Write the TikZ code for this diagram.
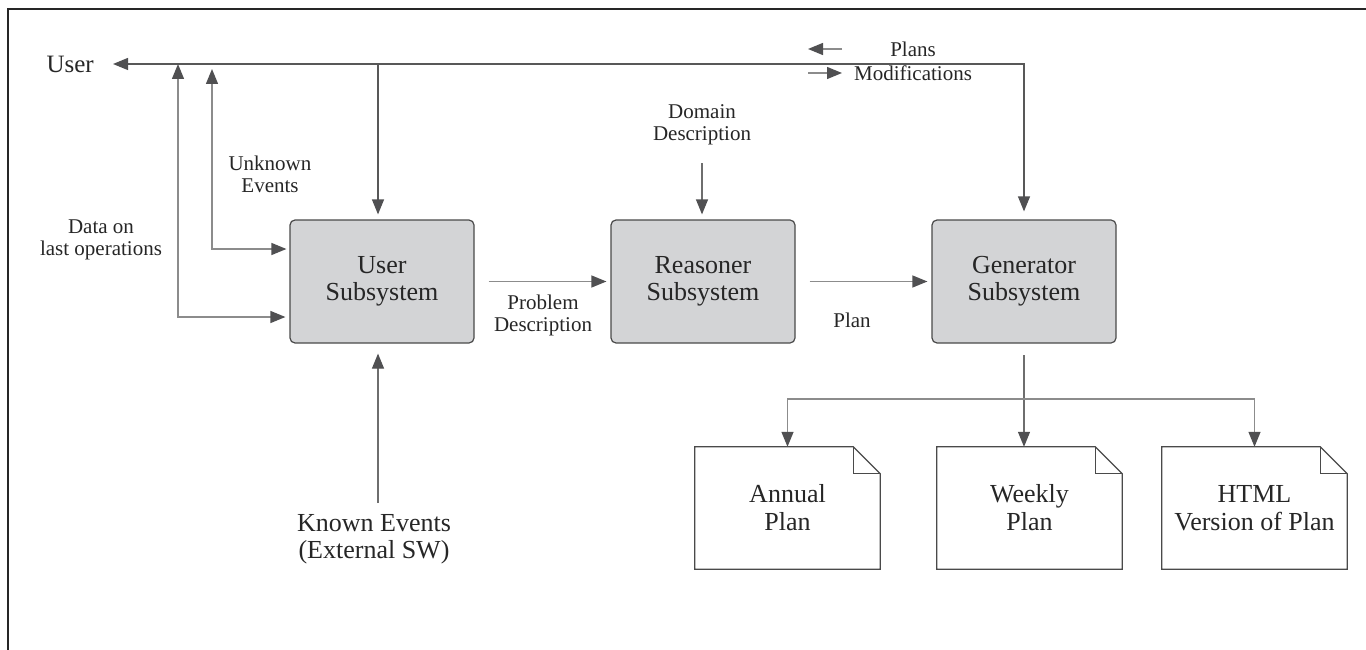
\documentclass[tikz,border=0pt]{standalone}
\usepackage{fontspec}
\setmainfont{Liberation Serif}
\usetikzlibrary{arrows.meta,calc}
\definecolor{linegray}{HTML}{6E6E6E}
\definecolor{lightline}{HTML}{8C8C8C}
\definecolor{darkline}{HTML}{585858}
\definecolor{tipgray}{HTML}{505052}
\definecolor{boxfill}{HTML}{D3D4D6}
\definecolor{boxline}{HTML}{4A4A4A}
\definecolor{textcol}{HTML}{262626}
\begin{document}
\begin{tikzpicture}[x=1pt,y=-1pt,
  text=textcol,
  >={Triangle[length=15pt,width=12pt,color=tipgray]},
  conn/.style={draw=linegray, line width=1.2pt},
  lightconn/.style={draw=lightline, line width=1.3pt},
  darkconn/.style={draw=darkline, line width=1.2pt},
  subbox/.style={draw=boxline, fill=boxfill, rounded corners=5pt, line width=1.2pt,
    minimum width=184pt, minimum height=123pt, align=center, inner sep=0pt,
    font=\fontsize{26}{27}\selectfont},
  lbl/.style={align=center, inner sep=0pt, font=\fontsize{21}{22}\selectfont},
  biglbl/.style={align=center, inner sep=0pt, font=\fontsize{26}{27}\selectfont},
  docbox/.style={minimum width=185pt, minimum height=122pt, align=center, inner sep=0pt,
    font=\fontsize{26}{28}\selectfont},
  docline/.style={draw=boxline, line width=1.2pt, line join=miter},
  frameline/.style={draw=black!85, line width=2pt}
]
\useasboundingbox (0,0) rectangle (1366,650);
% frame (cut off at right and bottom)
\draw[frameline] (1366,9) -- (8,9) -- (8,650);

% subsystems
\node[subbox] (usr) at (382,281.5) {User\\Subsystem};
\node[subbox] (rsn) at (703,281.5) {Reasoner\\Subsystem};
\node[subbox] (gen) at (1024,281.5) {Generator\\Subsystem};

% documents
\node[docbox] (annual) at (787.5,508) {Annual\\Plan};
\node[docbox] (weekly) at (1029.5,508) {Weekly\\Plan};
\node[docbox] (html) at (1254.5,508) {HTML\\Version of Plan};
\foreach \d in {annual,weekly,html}{
  \draw[docline] (\d.south west) -- (\d.north west) -- ([xshift=-27pt]\d.north east)
     -- ([yshift=-27pt]\d.north east) -- (\d.south east) -- cycle;
  \draw[docline] ([xshift=-27pt]\d.north east) -- ([xshift=-27pt,yshift=-27pt]\d.north east)
     -- ([yshift=-27pt]\d.north east);
}

% labels
\node[inner sep=0pt, anchor=east, font=\fontsize{25}{25}\selectfont] (user) at (94,64) {User};
\node[lbl] (unk) at (270,174) {Unknown\\Events};
\node[lbl] (data) at (101,240) {Data on\\last operations};
\node[lbl] (dom) at (702,125) {Domain\\Description};
\node[lbl] (prob) at (543,315) {Problem\\Description};
\node[lbl] (plan) at (852,320) {Plan};
\node[lbl] (plans) at (913,49) {Plans};
\node[lbl] (mods) at (913,73) {Modifications};
\node[biglbl] (known) at (374,539) {Known Events\\(External SW)};

% coordinates
\coordinate (tr) at (1024,64);
\coordinate (ud) at (378,64);
\coordinate (dt) at (178,64);
\coordinate (db) at (178,317);
\coordinate (ut) at (212,69);
\coordinate (ub) at (212,249);
\coordinate (kb) at (378,503);
\coordinate (pa1) at (842,49);
\coordinate (pa2) at (808,49);
\coordinate (ma1) at (808,73);
\coordinate (ma2) at (842,73);
\coordinate (gb) at (1024,355);
\coordinate (br) at (1024,399);

% connectors
\draw[darkconn,<->,shorten <=19pt,shorten >=8pt] (user.east) -- (tr) -- (gen.north);
\draw[darkconn,->,shorten >=5pt] (ud) -- (ud |- usr.north);
\draw[lightconn,<->,shorten >=4pt] (dt) -- (db) -- (db -| usr.west);
\draw[lightconn,<->,shorten >=3pt] (ut) -- (ub) -- (ub -| usr.west);
\draw[conn,->,shorten >=10pt] (kb) -- (kb |- usr.south);
\draw[lightconn,->,shorten <=14pt,shorten >=4pt] (usr.east) -- (rsn.west);
\draw[lightconn,->,shorten <=14pt,shorten >=4pt] (rsn.east) -- (gen.west);
\draw[conn,->,shorten <=18pt,shorten >=5pt] (dom.south) -- (dom.south |- rsn.north);
\draw[lightconn,->] (pa1) -- (pa2);
\draw[lightconn,->] (ma1) -- (ma2);
\draw[conn,->] (gb) -- (gb |- weekly.north);
\draw[lightconn,->] (br) -| (annual.north);
\draw[lightconn,->] (br) -| (html.north);
\end{tikzpicture}
\end{document}
